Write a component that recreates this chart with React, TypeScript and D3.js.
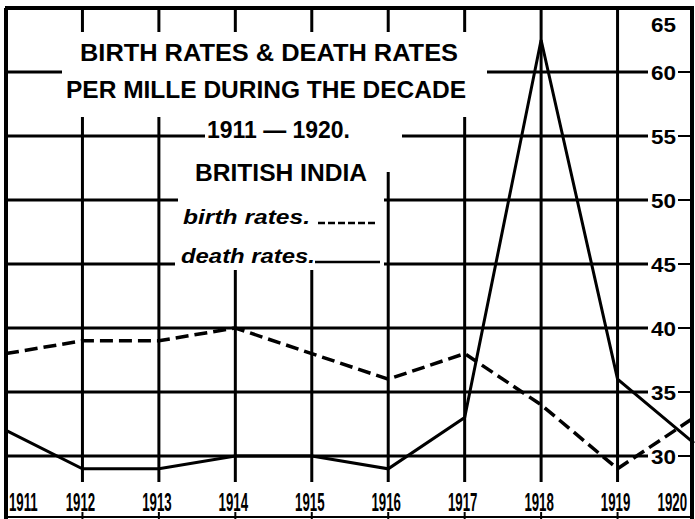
import React, { useEffect, useRef } from "react";
import * as d3 from "d3";

const years = [1911, 1912, 1913, 1914, 1915, 1916, 1917, 1918, 1919, 1920];
const birthRates = [38, 39, 39, 40, 38, 36, 38, 34, 29, 33];
const deathRates = [32, 29, 29, 30, 30, 29, 33, 62.5, 36, 31];
const gridValues = [30, 35, 40, 45, 50, 55, 60];
const yTickLabels = [30, 35, 40, 45, 50, 55, 60, 65];
const titleLines = [
  "BIRTH RATES & DEATH RATES",
  "PER MILLE DURING THE DECADE",
  "1911 \u2014 1920.",
  "BRITISH INDIA",
];
const legendLabels = ["birth rates.", "death rates."];

const App: React.FC = () => {
  const chartRef = useRef<HTMLDivElement>(null);

  useEffect(() => {
    const width = 695;
    const height = 519;
    const font = "'Liberation Sans', Arial, sans-serif";

    const svg = d3
      .select(chartRef.current)
      .append("svg")
      .attr("width", width)
      .attr("height", height)
      .style("display", "block")
      .style("background", "#fff");

    const x = d3.scaleLinear().domain([1911, 1920]).range([6, 694]);
    const y = d3.scaleLinear().domain([30, 65]).range([456, 8]);

    const grid = svg.append("g").attr("stroke", "#000").attr("stroke-width", 3);

    // horizontal rules
    gridValues.forEach((v) => {
      grid.append("line").attr("x1", 6).attr("x2", 648).attr("y1", y(v)).attr("y2", y(v));
      grid.append("line").attr("x1", 678).attr("x2", 692).attr("y1", y(v)).attr("y2", y(v)).attr("stroke-width", 2);
    });

    // vertical rules for inner years
    years.slice(1, -1).forEach((yr) => {
      grid.append("line").attr("x1", x(yr)).attr("x2", x(yr)).attr("y1", y(65)).attr("y2", 482);
      grid.append("line").attr("x1", x(yr)).attr("x2", x(yr)).attr("y1", 512).attr("y2", 519).attr("stroke-width", 2);
    });

    // frame
    grid.append("line").attr("x1", 5).attr("x2", 694).attr("y1", y(65)).attr("y2", y(65)).attr("stroke-width", 4);
    grid.append("line").attr("x1", x(1911)).attr("x2", x(1911)).attr("y1", y(65)).attr("y2", 519).attr("stroke-width", 4);
    grid.append("line").attr("x1", 692).attr("x2", 692).attr("y1", y(65)).attr("y2", 519).attr("stroke-width", 4);
    grid.append("line").attr("x1", 5).attr("x2", 694).attr("y1", 517).attr("y2", 517).attr("stroke-width", 2);

    // white knockouts behind the lettering
    const masks = [
      [66, 32, 406, 34],
      [62, 66, 425, 51],
      [205, 117, 197, 55],
      [190, 140, 190, 50],
      [178, 190, 206, 46],
      [175, 236, 209, 34],
    ];
    svg
      .append("g")
      .selectAll("rect")
      .data(masks)
      .join("rect")
      .attr("x", (d) => d[0])
      .attr("y", (d) => d[1])
      .attr("width", (d) => d[2])
      .attr("height", (d) => d[3])
      .attr("fill", "#fff");

    // title
    const titlePos = [
      { x: 80, y: 61, len: 378 },
      { x: 66, y: 98, len: 400 },
      { x: 207, y: 138, len: 143 },
      { x: 195, y: 181, len: 172 },
    ];
    titleLines.forEach((t, i) => {
      svg
        .append("text")
        .attr("x", titlePos[i].x)
        .attr("y", titlePos[i].y)
        .attr("textLength", titlePos[i].len)
        .attr("lengthAdjust", "spacingAndGlyphs")
        .attr("font-family", font)
        .attr("font-weight", "bold")
        .attr("font-size", 24)
        .text(t);
    });

    // legend
    const legendPos = [
      { x: 183, y: 224, len: 127 },
      { x: 181, y: 263, len: 134 },
    ];
    legendLabels.forEach((t, i) => {
      svg
        .append("text")
        .attr("x", legendPos[i].x)
        .attr("y", legendPos[i].y)
        .attr("textLength", legendPos[i].len)
        .attr("lengthAdjust", "spacingAndGlyphs")
        .attr("font-family", font)
        .attr("font-style", "italic")
        .attr("font-weight", "bold")
        .attr("font-size", 21)
        .text(t);
    });
    svg.append("line").attr("x1", 318).attr("x2", 377).attr("y1", 223).attr("y2", 223)
      .attr("stroke", "#000").attr("stroke-width", 2.5).attr("stroke-dasharray", "7 3");
    svg.append("line").attr("x1", 315).attr("x2", 380).attr("y1", 262).attr("y2", 262)
      .attr("stroke", "#000").attr("stroke-width", 2.5);

    // y labels on the right
    svg
      .append("g")
      .selectAll("text")
      .data(yTickLabels)
      .join("text")
      .attr("x", 651)
      .attr("y", (d) => (d === 65 ? 32 : y(d) + 8))
      .attr("textLength", 25)
      .attr("lengthAdjust", "spacingAndGlyphs")
      .attr("font-family", font)
      .attr("font-weight", "bold")
      .attr("font-size", 21)
      .text((d) => d);

    // year labels (squeezed horizontally like the hand lettering)
    svg
      .append("g")
      .selectAll("text")
      .data(years)
      .join("text")
      .attr("transform", (d) => {
        const lx = d === 1911 ? 9 : d === 1920 ? 687 : x(d) - 2;
        return `translate(${lx},511) scale(0.53,1)`;
      })
      .attr("text-anchor", (d) => (d === 1911 ? "start" : d === 1920 ? "end" : "middle"))
      .attr("font-family", font)
      .attr("font-weight", "bold")
      .attr("font-size", 25)
      .text((d) => d);

    // data lines
    const line = d3
      .line<number>()
      .x((_, i) => x(years[i]))
      .y((d) => y(d));

    svg
      .append("path")
      .datum(birthRates)
      .attr("fill", "none")
      .attr("stroke", "#000")
      .attr("stroke-width", 3.5)
      .attr("stroke-dasharray", "13 6")
      .attr("d", line);

    svg
      .append("path")
      .datum(deathRates)
      .attr("fill", "none")
      .attr("stroke", "#000")
      .attr("stroke-width", 3)
      .attr("stroke-linejoin", "miter")
      .attr("d", line);

    return () => {
      d3.select(chartRef.current).select("svg").remove();
    };
  }, []);

  return <div ref={chartRef} style={{ position: "fixed", left: 0, top: 0 }}></div>;
};

export default App;
